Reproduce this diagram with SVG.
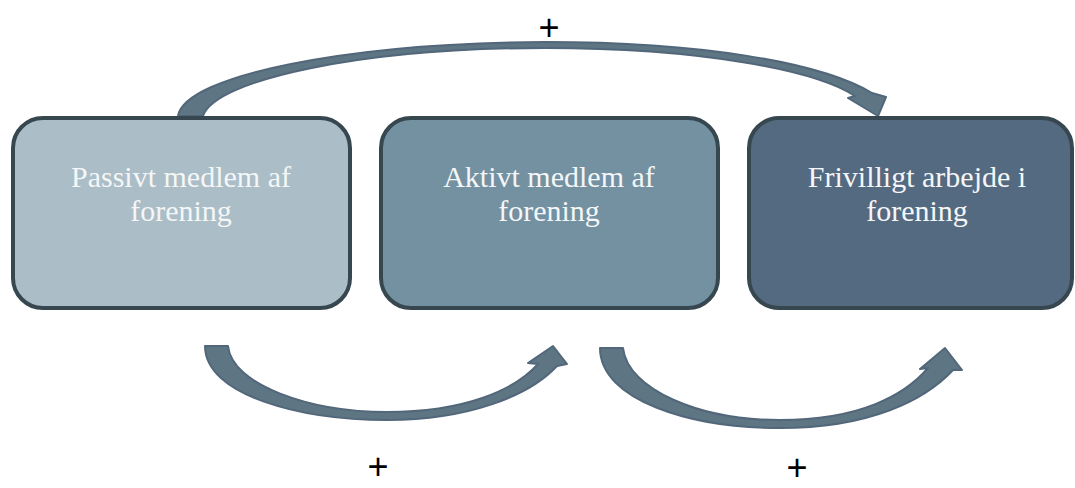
<svg xmlns="http://www.w3.org/2000/svg" width="1075" height="488" viewBox="0 0 1075 488">
<style>
.box{stroke:#37474f;stroke-width:4}
.lbl{font-family:"Liberation Serif",serif;font-size:30px;fill:#f4f6f7;text-anchor:middle}
.arr{fill:#5e7684;stroke:#52677a;stroke-width:2;stroke-linejoin:round}
.plus{font-family:"Liberation Sans",sans-serif;font-size:36px;fill:#000;text-anchor:middle}
</style>
<rect width="1075" height="488" fill="#fff"/>
<g id="connectors">
<path class="arr" d="M178,116 C185,75 350,43 545,42 C700,42 820,62 872,93 L886,97 L878,116 L848,98 L855,96 C815,70 700,48 545,48 C360,48 215,80 203,116 Z"/>
<path class="arr" d="M205,346 C205,395 300,420 387,420 C470,420 530,395 557,366 L567,364 L553,346 L528,363 L538,364 C515,390 465,412 387,412 C310,412 232,385 228,346 Z"/>
<path class="arr" d="M600,348 C600,400 690,428 780,428 C870,428 925,400 953,370 L962,370 L945,348 L920,369 L928,368 C905,395 860,420 780,420 C700,420 628,390 623,348 Z"/>
<text class="plus" x="549" y="40">+</text>
<text class="plus" x="378" y="479">+</text>
<text class="plus" x="797" y="480">+</text>
</g>
<g id="node1">
<rect class="box" x="13" y="118" width="337" height="190" rx="30" fill="#abbdc6"/>
<text class="lbl" x="181" y="187">Passivt medlem af</text>
<text class="lbl" x="181" y="221">forening</text>
</g>
<g id="node2">
<rect class="box" x="381" y="118" width="337" height="190" rx="30" fill="#7391a1"/>
<text class="lbl" x="549" y="187">Aktivt medlem af</text>
<text class="lbl" x="549" y="221">forening</text>
</g>
<g id="node3">
<rect class="box" x="749" y="118" width="323" height="190" rx="30" fill="#546a80"/>
<text class="lbl" x="917" y="187">Frivilligt arbejde i</text>
<text class="lbl" x="917" y="221">forening</text>
</g>
</svg>
